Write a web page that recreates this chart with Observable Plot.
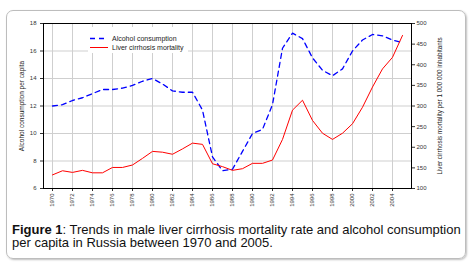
<!DOCTYPE html>
<html>
<head>
<meta charset="utf-8">
<script src="https://cdn.jsdelivr.net/npm/d3@7"></script>
<script src="https://cdn.jsdelivr.net/npm/@observablehq/plot@0.6"></script>
<style>
  html, body { margin: 0; padding: 0; background: #fff; }
  #fig { position: relative; width: 476px; height: 265px; overflow: hidden; font-family: "Liberation Sans", Arial, sans-serif; }
  #border { position: absolute; left: 6px; top: 10px; width: 460px; height: 249px; box-sizing: border-box;
            border: 1px solid #bdbdbd; border-radius: 7px; box-shadow: 1px 1px 2px rgba(0,0,0,0.25); }
  #chart { position: absolute; left: 0; top: 0; }
  #legend { position: absolute; left: 88px; top: 27px; }
  #caption { position: absolute; left: 12px; top: 223px; font-size: 13px; line-height: 13px; color: #111; white-space: nowrap; }
</style>
</head>
<body>
<div id="fig">
  <div id="border"></div>
  <div id="chart"></div>
  <svg id="legend" width="100" height="26">
    <rect x="0" y="0" width="100" height="26" fill="#fff"></rect>
    <line x1="2" x2="18" y1="11.5" y2="11.5" stroke="#0000ff" stroke-width="1.3" stroke-dasharray="5,4"></line>
    <text x="24" y="13.8" font-size="7" fill="#222" font-family="Liberation Sans, Arial">Alcohol consumption</text>
    <line x1="2" x2="20" y1="20.5" y2="20.5" stroke="#ff0000" stroke-width="1"></line>
    <text x="24" y="22.8" font-size="7" fill="#222" font-family="Liberation Sans, Arial">Liver cirrhosis mortality</text>
  </svg>
  <div id="caption"><b>Figure 1</b>: Trends in male liver cirrhosis mortality rate and alcohol consumption<br>per capita in Russia between 1970 and 2005.</div>
</div>
<script>
const years = [1970,1971,1972,1973,1974,1975,1976,1977,1978,1979,1980,1981,1982,1983,1984,1985,1986,1987,
               1988,1989,1990,1991,1992,1993,1994,1995,1996,1997,1998,1999,2000,2001,2002,2003,2004,2005];
const alcohol = [12.0,12.1,12.4,12.6,12.9,13.2,13.2,13.3,13.5,13.8,14.0,13.6,13.1,13.0,13.0,11.7,8.3,7.3,
                 7.4,8.7,10.0,10.3,12.1,16.2,17.3,16.9,15.5,14.6,14.2,14.7,16.0,16.8,17.2,17.1,16.8,16.6];
const mortality = [133,143,139,144,138,138,151,151,157,173,190,188,183,196,210,207,160,153,
                   144,148,161,161,169,219,290,314,265,234,219,234,257,297,346,390,418,471];
const xTicks = [1970,1972,1974,1976,1978,1980,1982,1984,1986,1988,1990,1992,1994,1996,1998,2000,2002,2004];
const leftTicks = [6,8,10,12,14,16,18];
const rightTicks = [100,150,200,250,300,350,400,450,500];
const leftLabel = "Alcohol consumption per capita";
const rightLabel = "Liver cirrhosis mortality per 1 000 000 inhabitants";

// map right-axis values (mortality) onto the left-axis domain
const toLeft = v => 6 + (v - 100) * 12 / 400;
const fromLeft = a => 100 + (a - 6) * 400 / 12;

const data = years.map((year, i) => ({year, alcohol: alcohol[i], mortality: mortality[i]}));

const chart = Plot.plot({
  width: 476,
  height: 210,
  marginLeft: 43,
  marginRight: 65,
  marginTop: 23,
  marginBottom: 22,
  x: {domain: [1969.1, 2005.9]},
  y: {domain: [6, 18]},
  style: {fontFamily: "Liberation Sans, Arial, sans-serif", fontSize: "6px", background: "transparent", color: "#333"},
  marks: [
    Plot.gridX(xTicks, {stroke: "#cfcfcf", strokeOpacity: 1}),
    Plot.gridY(leftTicks, {stroke: "#cfcfcf", strokeOpacity: 1}),
    Plot.axisX(xTicks, {tickRotate: -90, tickFormat: d => String(d), tickSize: 3, tickPadding: 2, label: null}),
    Plot.axisY(leftTicks, {anchor: "left", tickSize: 3, tickPadding: 4, label: null}),
    Plot.axisY(rightTicks.map(toLeft), {anchor: "right", tickSize: 3, tickPadding: 2, label: null,
      tickFormat: d => String(Math.round(fromLeft(d)))}),
    Plot.line(data, {x: "year", y: "alcohol", stroke: "#0000ff", strokeWidth: 1.3, strokeDasharray: "5,4"}),
    Plot.line(data, {x: "year", y: d => toLeft(d.mortality), stroke: "#ff0000", strokeWidth: 1}),
    Plot.frame({stroke: "#000", strokeWidth: 1}),
    Plot.text([leftLabel], {text: d => d, frameAnchor: "left", textAnchor: "middle", dx: -22, rotate: -90, fontSize: 6.5, fill: "#222"}),
    Plot.text([rightLabel], {text: d => d, frameAnchor: "right", textAnchor: "middle", dx: 28, rotate: -90, fontSize: 6.3, fill: "#222"})
  ]
});
document.getElementById("chart").appendChild(chart);
</script>
</body>
</html>
